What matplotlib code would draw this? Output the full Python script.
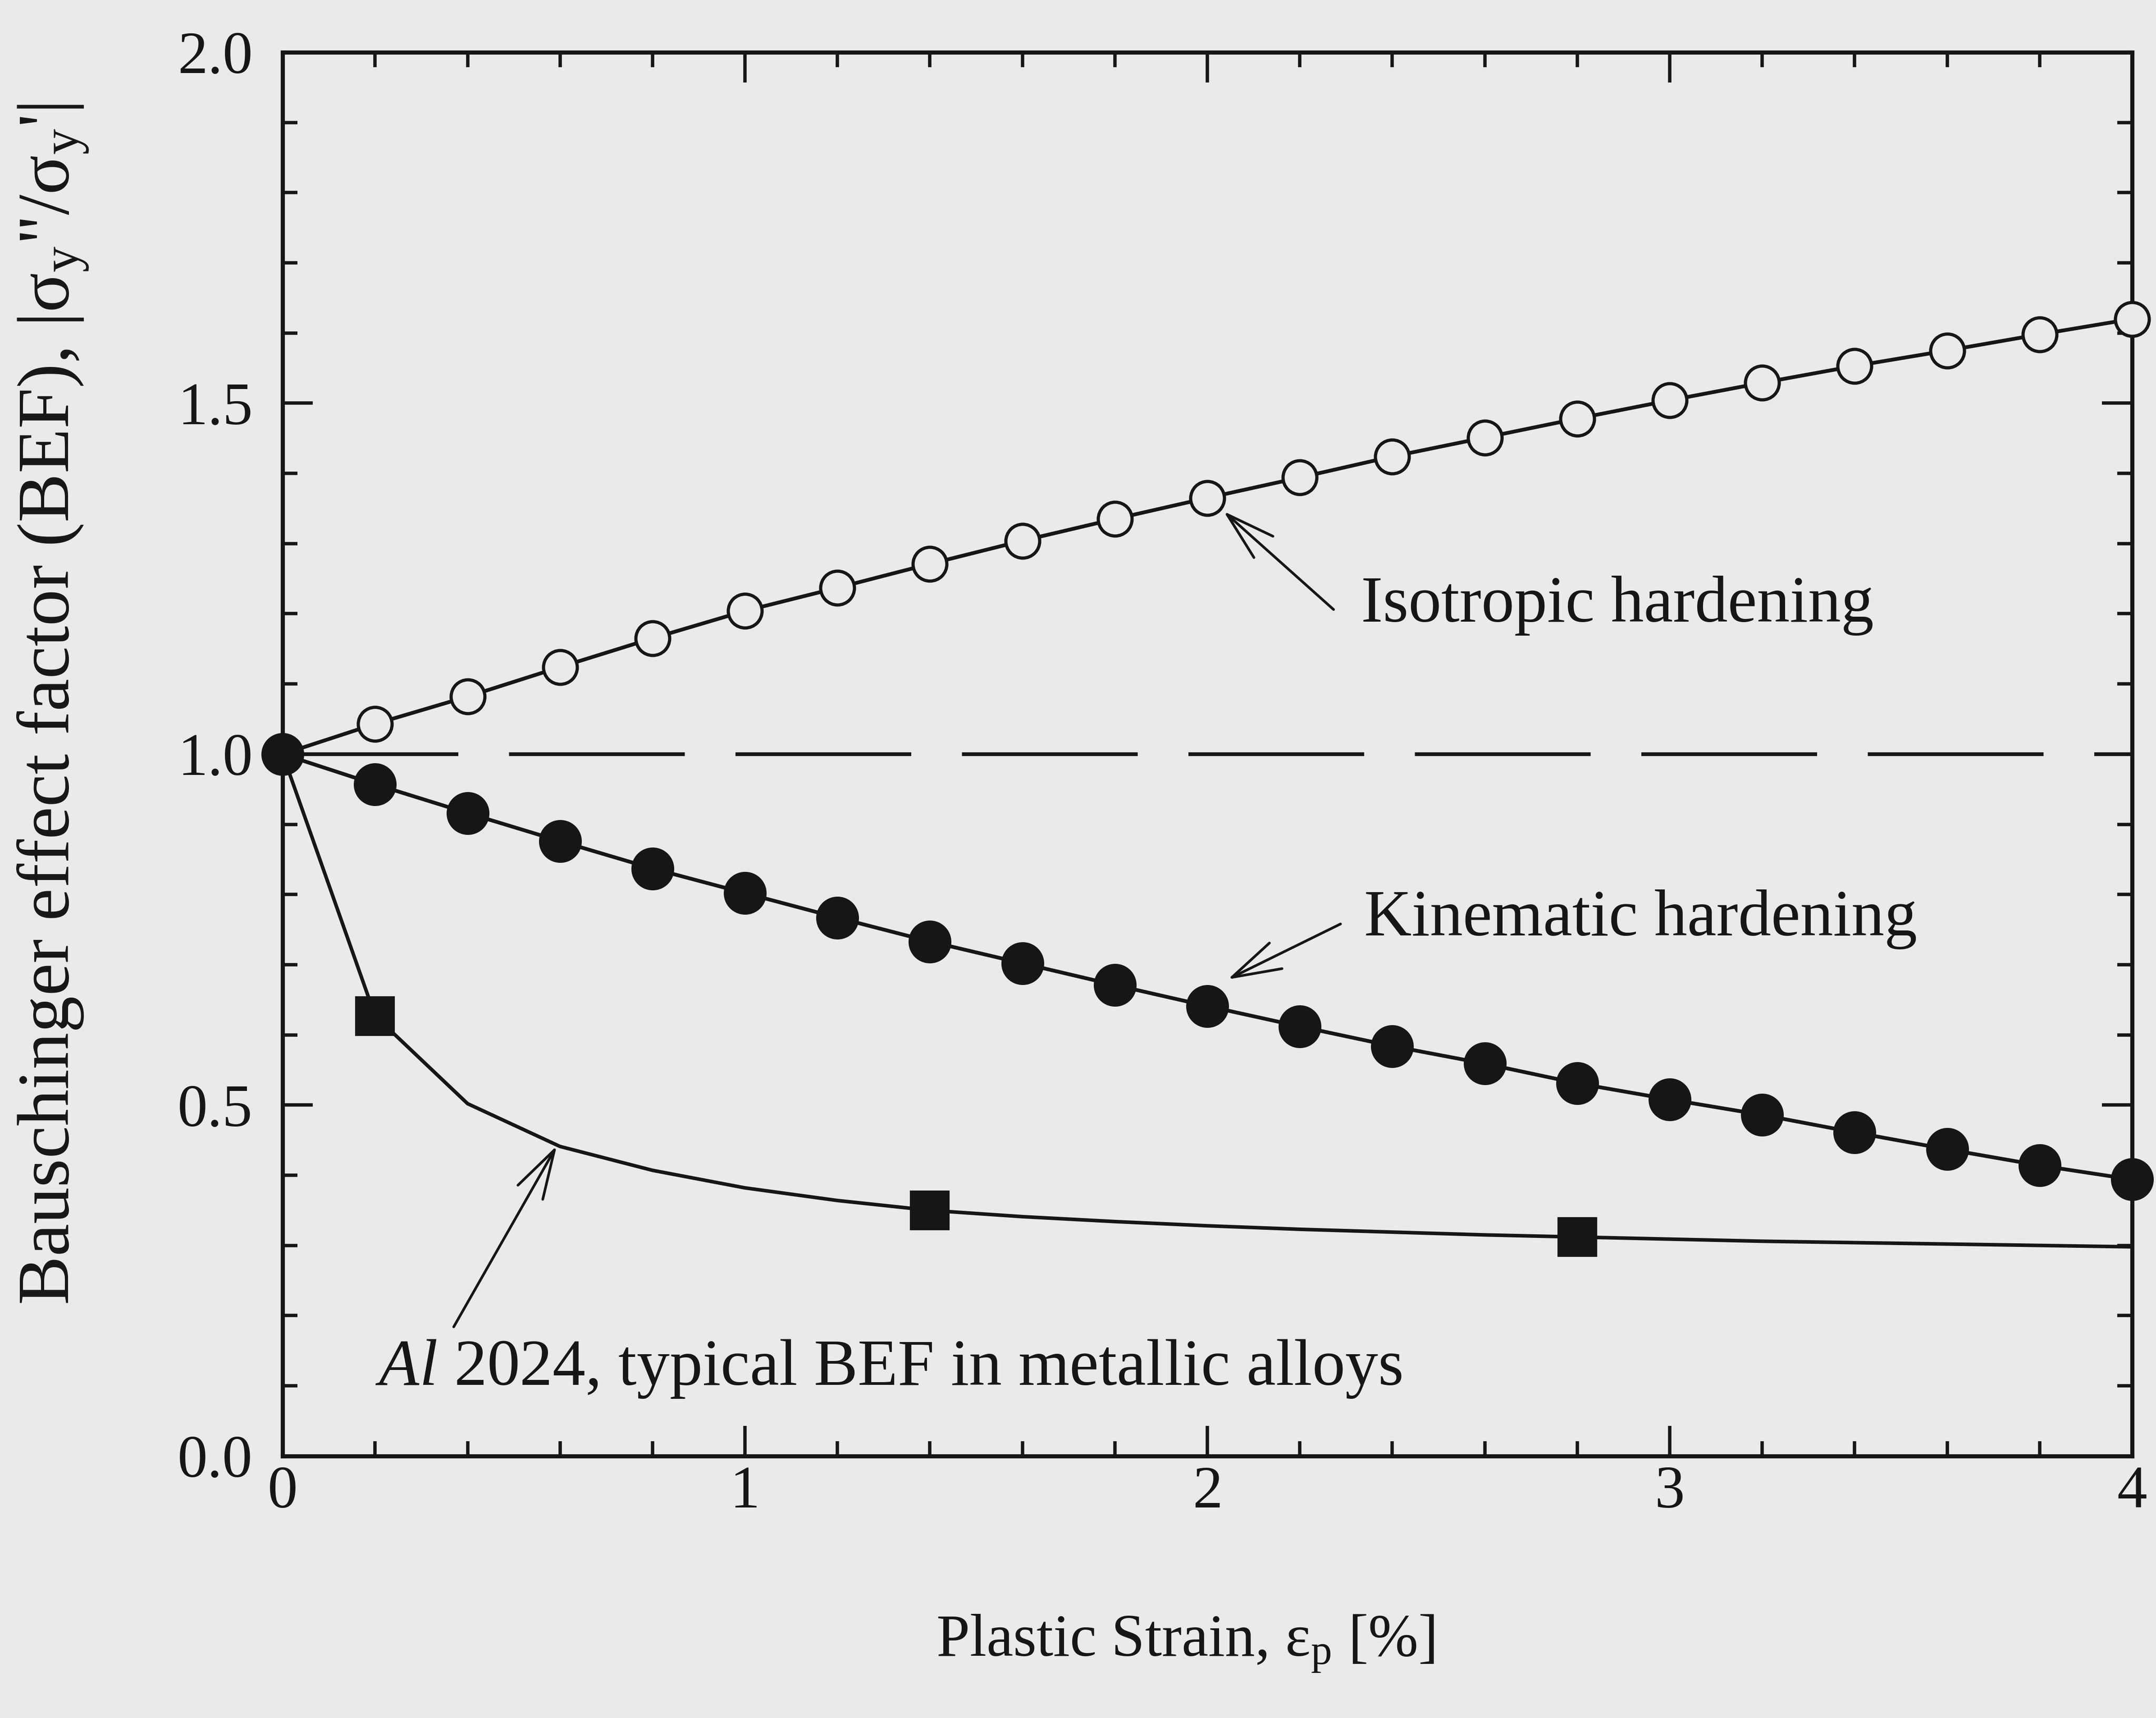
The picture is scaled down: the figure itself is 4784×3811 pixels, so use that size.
import matplotlib.pyplot as plt
from matplotlib.ticker import (MultipleLocator,
                               FormatStrFormatter)

strain = [0.0, 0.2, 0.4, 0.6, 0.8, 1.0, 1.2, 1.4, 1.6, 1.8, 2.0,
          2.2, 2.4, 2.6, 2.8, 3.0, 3.2, 3.4, 3.6, 3.8, 4.0]
isotropic = [1.000, 1.043, 1.082, 1.124, 1.165, 1.204, 1.237, 1.271,
             1.304, 1.335, 1.365, 1.394, 1.424, 1.451, 1.478, 1.504,
             1.529, 1.553, 1.575, 1.598, 1.620]
kinematic = [1.000, 0.957, 0.916, 0.876, 0.837, 0.802, 0.767, 0.733,
             0.702, 0.671, 0.641, 0.612, 0.584, 0.559, 0.531, 0.508,
             0.486, 0.461, 0.437, 0.414, 0.394]
al2024 = [1.000, 0.627, 0.502, 0.441, 0.407, 0.382, 0.364, 0.350,
          0.341, 0.334, 0.328, 0.323, 0.319, 0.315, 0.312, 0.309,
          0.306, 0.304, 0.302, 0.300, 0.298]
# measured points of the Al 2024 curve (indices into strain)
al2024_measured = [1, 7, 14]
reference = 1.0

ink = "#161616"
paper = "#eaeaea"

plt.rcParams.update({
    "font.family": ["Liberation Serif", "DejaVu Serif"],
    "mathtext.fontset": "custom",
    "mathtext.rm": "Liberation Serif",
    "mathtext.it": "Liberation Serif:italic",
    "text.color": ink,
    "axes.edgecolor": ink,
    "xtick.color": ink,
    "ytick.color": ink,
})


def add_arrow(ax, text: str, text_xy: tuple, tail: tuple, tip: tuple) -> None:
    ax.text(*text_xy,
            text,
            fontsize=35,
            ha="left",
            va="baseline")
    ax.annotate("",
                xy=tip,
                xytext=tail,
                arrowprops=dict(arrowstyle="->,head_length=1.3,head_width=0.38",
                                mutation_scale=20,
                                lw=1.4,
                                color=ink,
                                shrinkA=0,
                                shrinkB=0))


fig = plt.figure(figsize=(4784 / 300, 3811 / 300),
                 dpi=300,
                 facecolor=paper)
ax = fig.add_axes([0.1311, 0.1525, 0.8578, 0.8171],
                  facecolor=paper)

ax.plot([strain[0], strain[-1]],
        [reference, reference],
        color=ink,
        lw=2.0,
        dashes=(46.8, 13.5),
        zorder=1)
ax.plot(strain,
        al2024,
        color=ink,
        lw=1.9,
        marker="s",
        markevery=al2024_measured,
        ms=20,
        mfc=ink,
        mec=ink,
        clip_on=False,
        zorder=2)
ax.plot(strain,
        isotropic,
        color=ink,
        lw=2.0,
        marker="o",
        ms=18,
        mfc=paper,
        mec=ink,
        mew=1.7,
        clip_on=False,
        zorder=3)
ax.plot(strain,
        kinematic,
        color=ink,
        lw=2.0,
        marker="o",
        ms=22,
        mfc=ink,
        mec=ink,
        mew=0.8,
        clip_on=False,
        zorder=4)

add_arrow(ax,
          "Isotropic hardening",
          (2.332, 1.189),
          (2.273, 1.206),
          (2.035, 1.346))
add_arrow(ax,
          "Kinematic hardening",
          (2.339, 0.742),
          (2.288, 0.758),
          (2.044, 0.679))
add_arrow(ax,
          r"$\mathit{Al}$ 2024, typical BEF in metallic alloys",
          (0.201, 0.1015),
          (0.370, 0.184),
          (0.593, 0.442))

ax.set_xlim(0, 4)
ax.set_ylim(0, 2)
ax.xaxis.set_major_locator(MultipleLocator(1))
ax.xaxis.set_minor_locator(MultipleLocator(0.2))
ax.yaxis.set_major_locator(MultipleLocator(0.5))
ax.yaxis.set_minor_locator(MultipleLocator(0.1))
ax.yaxis.set_major_formatter(FormatStrFormatter("%.1f"))
ax.tick_params(which="both",
               direction="in",
               top=True,
               right=True,
               width=1.8,
               labelsize=32)
ax.tick_params(which="major",
               length=16)
ax.tick_params(which="minor",
               length=8)
ax.tick_params(axis="x",
               pad=5)
ax.tick_params(axis="y",
               pad=16)
for spine in ax.spines.values():
    spine.set_linewidth(2.2)

fig.text(2630 / 4784,
         1 - 3646 / 3811,
         "Plastic Strain, ε$_\\mathrm{p}$ [%]",
         fontsize=32,
         ha="center",
         va="center")
fig.text(118 / 4784,
         1 - 1562 / 3811,
         "Bauschinger effect factor (BEF), |σ$_\\mathrm{y}$\"/σ$_\\mathrm{y}$'|",
         fontsize=39,
         rotation=90,
         ha="center",
         va="center")

fig.savefig("out.png",
            dpi=300,
            facecolor=paper)
plt.close()
